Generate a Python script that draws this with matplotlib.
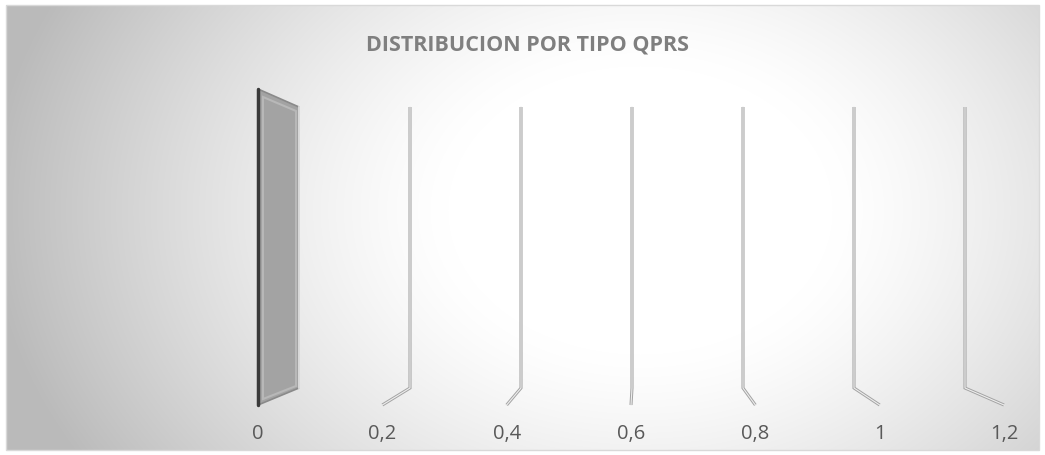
import numpy as np
import matplotlib.pyplot as plt
from matplotlib.patches import Polygon, Rectangle

# value axis of the (empty) 3D bar chart
ticks = [0, 0.2, 0.4, 0.6, 0.8, 1.0, 1.2]
tick_labels = ["0", "0,2", "0,4", "0,6", "0,8", "1", "1,2"]
title = "DISTRIBUCION POR TIPO QPRS"

W, H = 1045, 455

# perspective layout (pixels)
front_x = (258, 1004)   # x of value 0 and 1.2 at the front of the floor
back_x = (299, 965)     # same at the back wall
front_y = 405
back_y = 388
back_top = 107
wall_front_top = 89


def px(v, depth):
    """depth 0 = front, 1 = back"""
    x0 = front_x[0] + (back_x[0] - front_x[0]) * depth
    x1 = front_x[1] + (back_x[1] - front_x[1]) * depth
    return x0 + (x1 - x0) * v / ticks[-1]


fig = plt.figure(figsize=(W / 100, H / 100), dpi=100)
ax = fig.add_axes([0, 0, 1, 1])
ax.set_xlim(0, W)
ax.set_ylim(H, 0)
ax.axis('off')

# background: radial gradient, white in the middle, grey at the edges
yy, xx = np.mgrid[0:H, 0:W]
r = np.sqrt(((xx - 640) / 640.0) ** 2 + ((yy - 210) / 480.0) ** 2)
shade = 1.0 - 0.27 * np.clip((r - 0.3) / 0.72, 0, 1) ** 1.3
img = np.dstack([shade] * 3)
x0b, y0b, x1b, y1b = 6, 5, 1039, 450
ax.add_patch(Rectangle((0, 0), W, H, facecolor='white', edgecolor='none', zorder=0))
ax.imshow(img[y0b:y1b, x0b:x1b], extent=(x0b, x1b, y1b, y0b), zorder=1, interpolation='bilinear')
ax.add_patch(Rectangle((x0b, y0b), x1b - x0b, y1b - y0b, facecolor='none',
                       edgecolor='#d9d9d9', lw=1.0, zorder=2))

# side wall at the first tick
xf0, xb0 = px(ticks[0], 0), px(ticks[0], 1)
wall = Polygon([(xf0, front_y), (xf0, wall_front_top), (xb0, back_top), (xb0, back_y)],
               closed=True, facecolor='#a3a3a3', edgecolor='#8a8a8a', lw=1.2, zorder=3)
ax.add_patch(wall)
inner = Polygon([(xf0 + 5, front_y - 6), (xf0 + 5, wall_front_top + 8),
                 (xb0 - 3, back_top + 4), (xb0 - 3, back_y - 2)],
                closed=True, facecolor='none', edgecolor='#b8b8b8', lw=1.5, zorder=4)
ax.add_patch(inner)
ax.plot([xf0, xf0], [front_y, wall_front_top], color='#3a3a3a', lw=2.5,
        solid_capstyle='round', zorder=5)
ax.plot([xb0, xb0], [back_top, back_y], color='#e6e6e6', lw=1.2, zorder=5)

# gridlines: vertical on the back wall, then along the floor to the front
for v in ticks[1:]:
    xb, xf = px(v, 1), px(v, 0)
    xs = [xb, xb, xf]
    ys = [back_top, back_y, front_y]
    ax.plot(xs, ys, color='#a3a3a3', lw=2.2, solid_joinstyle='miter',
            solid_capstyle='butt', zorder=3)
    ax.plot(xs, ys, color='#eeeeee', lw=0.8, solid_joinstyle='miter', zorder=4)

# tick labels under the front edge
for v, lab in zip(ticks, tick_labels):
    ax.text(px(v, 0), 434, lab, ha='center', va='center', fontsize=14.5,
            color='#595959', family='Open Sans', zorder=6)

ax.text(527, 45, title, ha='center', va='center', fontsize=15.5, fontweight='bold',
        color='#7f7f7f', family='Open Sans', zorder=6)

fig.savefig('out.png', dpi=100)
